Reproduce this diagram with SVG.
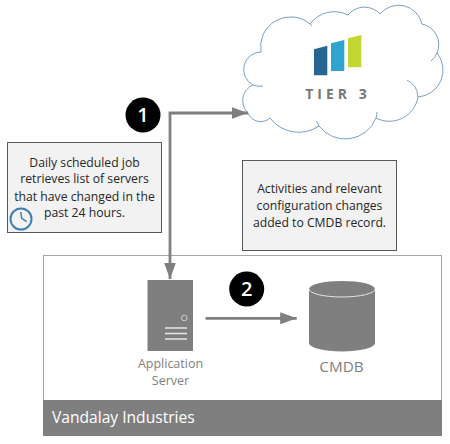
<svg xmlns="http://www.w3.org/2000/svg" width="450" height="444" viewBox="0 0 450 444">
<style>
text{font-family:"Open Sans","Noto Sans",sans-serif}
.note{fill:#f2f2f2;stroke:#595959;stroke-width:1}
.nt{font-size:12.200px;fill:#262626;text-anchor:middle}
.lbl{fill:#7f7f7f;text-anchor:middle}
.badge{fill:#000}
.bt{fill:#fff;font-size:20px;font-weight:600;text-anchor:middle}
.conn{fill:none;stroke:#7f7f7f;stroke-width:2.800}
.cl{fill:none;stroke:#7ba0c4;stroke-width:1}
</style>
<defs>
<marker id="ah" markerUnits="userSpaceOnUse" markerWidth="17" markerHeight="12" refX="16.500" refY="6" orient="auto-start-reverse"><path d="M0 0L16.500 6L0 12Z" fill="#7f7f7f"/></marker>
</defs>
<rect width="450" height="444" fill="#fff"/>
<g id="cloud">
<path d="M248 113A17 17 0 0 1 253 85A17.500 17.500 0 0 1 261 52A30 30 0 0 1 310 24A30 30 0 0 1 348 15A21 21 0 0 1 380 14A24 24 0 0 1 422 24A21 21 0 0 1 437 53A27 27 0 0 1 418 97A29 29 0 0 1 376 118A33 33 0 0 1 319 126A36 36 0 0 1 270 118A13.600 13.600 0 0 1 248 113Z" fill="#fff" stroke="#7ba0c4" stroke-width="1"/>
<path class="cl" d="M253 85Q258 87 263 86M310 24L312 26M437 53Q435 58 431 61M407 80A20 20 0 0 1 418 97M377 112Q377 115 376 118M316.500 121L319 126"/>
<path d="M314 49.300L327.300 45.700V75.300H314Z" fill="#26658f"/>
<path d="M331 43.300L344.300 40V71H331Z" fill="#2fa4d0"/>
<path d="M348 38.300L361.300 35V67.300H348Z" fill="#c3d633"/>
<text x="338" y="98.500" text-anchor="middle" font-size="14" font-weight="700" fill="#777" letter-spacing="4">TIER 3</text>
</g>
<g id="note1">
<rect class="note" x="7.500" y="142.500" width="154" height="90"/>
<text class="nt" x="84.500" y="166.500">Daily scheduled job</text>
<text class="nt" x="84.500" y="183">retrieves list of servers</text>
<text class="nt" x="84.500" y="200.500">that have changed in the</text>
<text class="nt" x="84.500" y="217">past 24 hours.</text>
<circle cx="21" cy="219" r="10.500" fill="none" stroke="#3f7fb0" stroke-width="2"/>
<path d="M20.700 212L21.700 218.300L26.700 221.700" fill="none" stroke="#3f7fb0" stroke-width="1.500"/>
</g>
<g id="note2">
<rect class="note" x="242.500" y="160.500" width="154" height="90"/>
<text class="nt" x="319.500" y="192.700">Activities and relevant</text>
<text class="nt" x="319.500" y="210">configuration changes</text>
<text class="nt" x="319.500" y="226.700">added to CMDB record.</text>
</g>
<g id="vandalay">
<rect x="43.500" y="255.500" width="398" height="180" fill="#fff" stroke="#a6a6a6"/>
<rect x="43" y="400" width="399" height="36" fill="#7f7f7f"/>
<text x="52" y="423" font-size="15.600" fill="#fff">Vandalay Industries</text>
</g>
<g id="server">
<rect x="147.500" y="280" width="45.500" height="71" fill="#7f7f7f"/>
<circle cx="184.300" cy="318" r="2.800" fill="none" stroke="#d0d0d0"/>
<path d="M165 328H187M165 333.500H187M165 339H187" stroke="#e8e8e8" stroke-width="1.500"/>
<text class="lbl" x="170.500" y="368" font-size="12.500">Application</text>
<text class="lbl" x="170.500" y="385" font-size="12.500">Server</text>
</g>
<g id="cmdb">
<path d="M309 289A33 8 0 0 1 375 289V343A33 8.500 0 0 1 309 343Z" fill="#7f7f7f"/>
<path d="M309 289A33 8 0 0 0 375 289" fill="none" stroke="#e5e5e5"/>
<text class="lbl" x="341.500" y="372" font-size="15.300">CMDB</text>
</g>
<g id="connectors">
<path class="conn" d="M170 279V113H248" marker-start="url(#ah)" marker-end="url(#ah)"/>
<path class="conn" d="M205.500 318.300H296.700" marker-end="url(#ah)"/>
</g>
<g id="badge1"><circle class="badge" cx="143" cy="115" r="17.500"/><text class="bt" x="143" y="122">1</text></g>
<g id="badge2"><circle class="badge" cx="246.700" cy="289" r="17.500"/><text class="bt" x="246.700" y="296">2</text></g>
</svg>
